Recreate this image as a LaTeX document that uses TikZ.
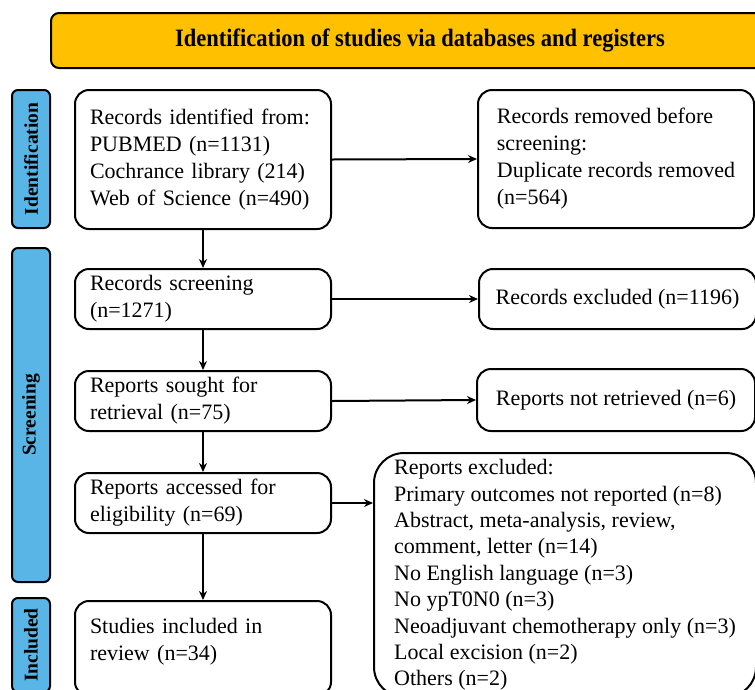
\documentclass[tikz,border=0pt]{standalone}
\usepackage{fontspec}
\setmainfont{Liberation Serif}
\usetikzlibrary{positioning, arrows.meta}
\definecolor{titlefill}{RGB}{255,192,0}
\definecolor{barfill}{RGB}{88,181,230}
\begin{document}
\begin{tikzpicture}[x=1pt, y=-1pt, line cap=round, line join=round,
	>={Stealth[length=9pt, width=8pt]},
	font=\fontsize{22}{27}\selectfont,
	leftbox/.style={draw, line width=2pt, rounded corners=14pt, anchor=north west,
		align=left, inner xsep=15pt, text width=226pt},
	rightbox/.style={draw, line width=2pt, rounded corners=14pt, anchor=north west,
		align=center},
	bar/.style={draw, line width=2pt, fill=barfill, rounded corners=6pt,
		minimum width=38pt, inner sep=0pt, font=\fontsize{19.5}{23}\selectfont\bfseries},
	flow/.style={->, line width=2pt}]
	% Page size of the reference (1pt = 1px)
	\useasboundingbox (0,0) rectangle (755,689);
	\clip (0,0) rectangle (755,689);
	
	% Title band
	\node[draw, line width=2pt, fill=titlefill, rounded corners=8pt,
		minimum width=738pt, minimum height=55pt,
		font=\fontsize{25}{30}\selectfont\bfseries] (title) at (420,40.5)
		{\scalebox{0.9}[1]{Identification of studies via databases and registers}};
	
	% Stage bars on the left
	\node[bar, minimum height=138pt] (idbar) at (31,159) {\rotatebox{90}{Identification}};
	\node[bar, minimum height=334pt] (scbar) at (31,415) {\rotatebox{90}{Screening}};
	\node[bar, minimum height=94pt] (inbar) at (31,645) {\rotatebox{90}{Included}};
	
	% Main column
	\node[leftbox, minimum height=139pt] (ident) at (74,89)
		{Records identified from:\\PUBMED (n=1131)\\Cochrance library (214)\\Web of Science (n=490)};
	\node[leftbox, minimum height=60pt] (screen) at (74,268) {Records screening\\(n=1271)};
	\node[leftbox, minimum height=60pt] (sought) at (74,370) {Reports sought for\\retrieval (n=75)};
	\node[leftbox, minimum height=60pt] (assessed) at (74,472) {Reports accessed for\\eligibility (n=69)};
	\node[leftbox, minimum height=95pt] (incl) at (74,600) {Studies included in\\review (n=34)\\[-9pt]\mbox{}};
	
	% Side column
	\node[rightbox, align=left, minimum width=276pt, minimum height=138pt] (removed) at (477,89)
		{Records removed before\\screening:\\Duplicate records removed\\(n=564)};
	\node[rightbox, minimum width=277pt, minimum height=60pt] (excl) at (478,268) {Records excluded (n=1196)};
	\node[rightbox, minimum width=278pt, minimum height=62pt] (notret) at (476,368) {Reports not retrieved (n=6)};
	\node[rightbox, align=left, rounded corners=30pt, minimum width=382pt, minimum height=244pt,
		font=\fontsize{22}{26.4}\selectfont] (repexcl) at (373,452)
		{Reports excluded:\\Primary outcomes not reported (n=8)\\Abstract, meta-analysis, review,\\comment, letter (n=14)\\No English language (n=3)\\No ypT0N0 (n=3)\\Neoadjuvant chemotherapy only (n=3)\\Local excision (n=2)\\Others (n=2)};
	
	% Arrows
	\draw[flow] (ident.south) -- (screen.north);
	\draw[flow] (screen.south) -- (sought.north);
	\draw[flow] (sought.south) -- (assessed.north);
	\draw[flow] (assessed.south) -- (incl.north);
	\draw[flow] (ident.east) -- (removed.west);
	\draw[flow] (screen.east) -- (excl.west);
	\draw[flow] (sought.east) -- (notret.west);
	\draw[flow] (assessed.east) -- (assessed.east -| repexcl.west);
\end{tikzpicture}
\end{document}
